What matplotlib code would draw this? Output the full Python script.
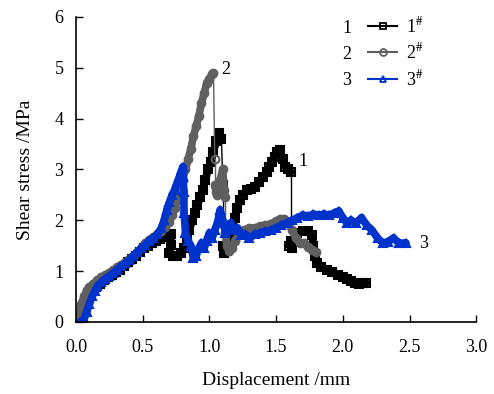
import matplotlib
matplotlib.use("Agg")
import matplotlib.pyplot as plt
import numpy as np
from matplotlib.collections import LineCollection

# sample 1# (black, squares)
x1 = [0.00, 0.03, 0.06, 0.09, 0.12, 0.15, 0.18, 0.21, 0.24, 0.27, 0.30, 0.33, 0.36, 0.39,
      0.42, 0.45, 0.48, 0.51, 0.54, 0.57, 0.60, 0.63, 0.66, 0.69, 0.71, 0.71, 0.70, 0.73,
      0.76, 0.79, 0.81, 0.83, 0.85, 0.87, 0.89, 0.91, 0.93, 0.95, 0.97, 0.99, 1.01, 1.03,
      1.05, 1.07, 1.09, 1.10, 1.10, 1.11, 1.13, 1.15, 1.17, 1.19, 1.21, 1.23, 1.25, 1.28,
      1.31, 1.34, 1.37, 1.40, 1.43, 1.45, 1.47, 1.49, 1.51, 1.53, 1.55, 1.57, 1.59, 1.61,
      1.61, 1.60, 1.62, 1.64, 1.66, 1.70, 1.74, 1.77, 1.78, 1.79, 1.81, 1.84, 1.88, 1.92,
      1.96, 2.00, 2.03, 2.06, 2.09, 2.12, 2.15, 2.17]
y1 = [0.00, 0.15, 0.35, 0.50, 0.60, 0.68, 0.75, 0.82, 0.88, 0.93, 0.98, 1.03, 1.10, 1.17,
      1.23, 1.30, 1.37, 1.45, 1.50, 1.55, 1.60, 1.63, 1.67, 1.72, 1.72, 1.52, 1.35, 1.30,
      1.30, 1.35, 1.45, 1.60, 1.80, 2.00, 2.15, 2.30, 2.45, 2.60, 2.80, 3.00, 3.15, 3.35,
      3.55, 3.72, 3.60, 2.70, 1.50, 1.35, 1.40, 1.60, 1.85, 2.05, 2.25, 2.40, 2.50, 2.60,
      2.62, 2.65, 2.75, 2.85, 2.95, 3.05, 3.15, 3.25, 3.35, 3.38, 3.20, 3.05, 3.00, 2.95,
      1.60, 1.50, 1.45, 1.60, 1.75, 1.78, 1.78, 1.70, 1.50, 1.30, 1.15, 1.08, 1.03, 0.98,
      0.93, 0.88, 0.84, 0.80, 0.77, 0.75, 0.76, 0.76]

# sample 2# (grey, circles)
x2 = [0.00, 0.02, 0.04, 0.06, 0.08, 0.10, 0.13, 0.16, 0.19, 0.22, 0.25, 0.28, 0.31, 0.34,
      0.37, 0.40, 0.43, 0.46, 0.49, 0.52, 0.55, 0.58, 0.61, 0.64, 0.67, 0.70, 0.72, 0.74,
      0.76, 0.78, 0.80, 0.82, 0.84, 0.86, 0.88, 0.90, 0.92, 0.94, 0.96, 0.98, 1.00, 1.02,
      1.03, 1.04, 1.04, 1.05, 1.06, 1.07, 1.08, 1.10, 1.11, 1.12, 1.12, 1.13, 1.15, 1.17,
      1.19, 1.22, 1.26, 1.30, 1.34, 1.38, 1.42, 1.46, 1.50, 1.53, 1.56, 1.59, 1.62, 1.65,
      1.68, 1.71, 1.74, 1.77, 1.80]
y2 = [0.00, 0.15, 0.35, 0.50, 0.62, 0.68, 0.75, 0.82, 0.88, 0.92, 0.97, 1.02, 1.08, 1.12,
      1.17, 1.23, 1.30, 1.38, 1.45, 1.55, 1.62, 1.67, 1.72, 1.78, 1.87, 1.97, 2.10, 2.25,
      2.40, 2.60, 2.80, 3.00, 3.20, 3.40, 3.65, 3.85, 4.05, 4.30, 4.50, 4.70, 4.78, 4.88,
      4.90, 3.20, 2.70, 2.55, 2.50, 2.60, 2.80, 3.00, 2.60, 2.45, 1.75, 1.50, 1.40, 1.45,
      1.60, 1.70, 1.80, 1.85, 1.85, 1.88, 1.90, 1.93, 1.98, 2.02, 2.03, 1.95, 1.80, 1.65,
      1.55, 1.55, 1.48, 1.42, 1.38]

# sample 3# (blue, triangles)
x3 = [0.03, 0.06, 0.08, 0.10, 0.12, 0.14, 0.16, 0.19, 0.22, 0.25, 0.28, 0.31, 0.34, 0.37,
      0.40, 0.43, 0.46, 0.49, 0.52, 0.55, 0.58, 0.61, 0.64, 0.66, 0.68, 0.70, 0.72, 0.74,
      0.76, 0.78, 0.80, 0.80, 0.81, 0.81, 0.82, 0.84, 0.86, 0.88, 0.90, 0.92, 0.94, 0.96,
      0.98, 1.00, 1.02, 1.04, 1.06, 1.08, 1.10, 1.12, 1.14, 1.16, 1.18, 1.21, 1.24, 1.27,
      1.30, 1.34, 1.38, 1.42, 1.46, 1.50, 1.54, 1.58, 1.62, 1.66, 1.70, 1.74, 1.78, 1.82,
      1.86, 1.90, 1.94, 1.97, 2.00, 2.03, 2.06, 2.10, 2.14, 2.18, 2.22, 2.26, 2.30, 2.34,
      2.38, 2.42, 2.47]
y3 = [0.00, 0.05, 0.20, 0.35, 0.50, 0.60, 0.70, 0.78, 0.85, 0.90, 0.97, 1.03, 1.10, 1.15,
      1.22, 1.30, 1.38, 1.45, 1.52, 1.60, 1.65, 1.72, 1.85, 2.00, 2.20, 2.35, 2.50, 2.60,
      2.75, 2.90, 3.05, 2.85, 2.55, 2.15, 1.75, 1.60, 1.50, 1.25, 1.30, 1.45, 1.55, 1.45,
      1.60, 1.75, 1.65, 1.80, 1.95, 2.20, 2.00, 1.75, 1.90, 1.95, 1.80, 1.85, 1.70, 1.72,
      1.65, 1.72, 1.75, 1.78, 1.80, 1.85, 1.90, 1.95, 2.00, 2.05, 2.10, 2.08, 2.12, 2.10,
      2.12, 2.10, 2.15, 2.18, 2.05, 1.95, 2.00, 1.95, 2.05, 1.90, 1.80, 1.65, 1.55, 1.58,
      1.65, 1.55, 1.55]

series = [(x1, y1, "k", "s", "1"), (x2, y2, "#5f5f5f", "o", "2"), (x3, y3, "#0033cc", "^", "3")]
curve_labels = {"1": (1.67, 3.15), "2": (1.09, 4.96), "3": (2.57, 1.54)}

plt.rcParams["font.family"] = ["Liberation Serif", "DejaVu Serif"]
plt.rcParams["mathtext.fontset"] = "stix"

fig = plt.figure(figsize=(4.94, 3.94), dpi=100)
ax = fig.add_axes([0.154, 0.183, 0.810, 0.774])

for x, y, c, m, name in series:
    pts = np.column_stack([x, y])
    segs = np.stack([pts[:-1], pts[1:]], axis=1)
    # sudden load drops are drawn thin, the rest as a dense marker band
    drop = np.abs(np.diff(y)) > 0.45
    lws = np.where(drop, 1.0, 5.5)
    ax.add_collection(LineCollection(segs, colors=c, linewidths=lws, capstyle="round"))
    ax.plot(x, y, ls="none", color=c, marker=m, ms=5.5, mfc="none", mew=1.5)
    lx, ly = curve_labels[name]
    ax.text(lx, ly, name, fontsize=13, va="center", ha="left")

ax.set_xlim(0, 3.0)
ax.set_ylim(0, 6)
ax.set_xticks([0.0, 0.5, 1.0, 1.5, 2.0, 2.5, 3.0])
ax.set_xticklabels(["0.0", "0.5", "1.0", "1.5", "2.0", "2.5", "3.0"])
ax.set_yticks(range(7))
ax.tick_params(direction="in", length=5, width=1, labelsize=13)
ax.tick_params(axis="x", pad=12)
ax.tick_params(axis="y", pad=9)
for s in ("top", "right"):
    ax.spines[s].set_visible(False)
for s in ("left", "bottom"):
    ax.spines[s].set_linewidth(1.2)

ax.set_xlabel("Displacement /mm", fontsize=14, labelpad=12)
ax.set_ylabel("Shear stress /MPa", fontsize=14, labelpad=15)

leg_handles = []
for x, y, c, m, name in series:
    h, = ax.plot([], [], color=c, lw=1.5, marker=m, ms=5, mfc="none", mew=1.3)
    leg_handles.append(h)
leg = ax.legend(leg_handles, [s[4] + r"$^{\#}$" for s in series], loc="upper left",
                bbox_to_anchor=(0.69, 1.055), frameon=False, fontsize=13,
                handlelength=1.6, handletextpad=0.5, labelspacing=0.35)

# number each legend row on its left, on the same baseline as the row
fig.canvas.draw()
inv = ax.transAxes.inverted()
for t, (_, _, _, _, name) in zip(leg.get_texts(), series):
    bb = t.get_window_extent()
    _, yc = inv.transform((0, bb.y0 + bb.height * 0.42))
    ax.text(0.666, yc, name, transform=ax.transAxes, fontsize=13, va="center", ha="left")

fig.savefig("out.png", dpi=100)
